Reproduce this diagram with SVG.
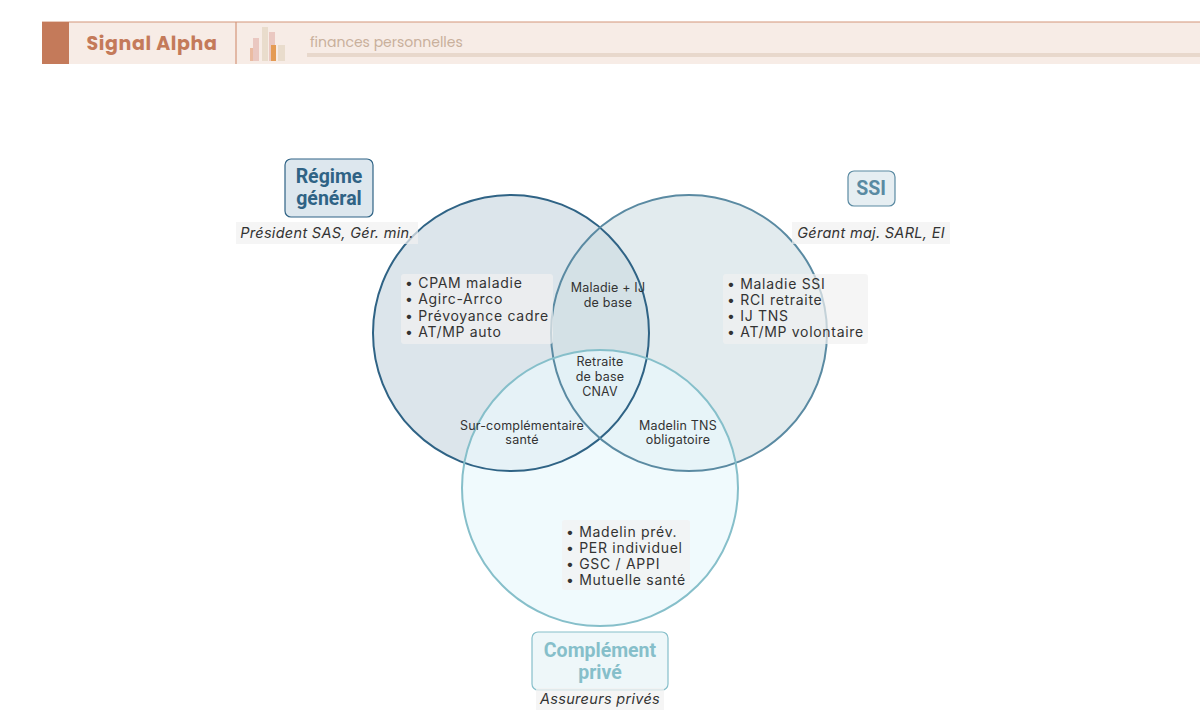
<svg xmlns="http://www.w3.org/2000/svg" width="1200" height="721" viewBox="0 0 1200 721">
<style>
.t{font-family:Inter,"Noto Sans",sans-serif;fill:#333}
.b{font-size:14px;letter-spacing:0.7px}
.s{font-size:12.5px;letter-spacing:0.2px}
.lb{fill:#f1f1f1;opacity:.7}
.it{font-family:Inter,sans-serif;font-style:italic;font-size:14.5px;fill:#333;letter-spacing:0.3px}
.tt{font-family:Roboto,sans-serif;font-weight:bold;font-size:19.5px}
</style>
<rect width="1200" height="721" fill="#fff"/>
<g id="header">
<rect x="42" y="22" width="1158" height="42" fill="#f7ece6"/>
<line x1="42" y1="22" x2="1200" y2="22" stroke="#d4967a" stroke-width="1.2"/>
<rect x="42" y="22" width="27" height="42" fill="#c47a5a"/>
<line x1="236" y1="22" x2="236" y2="64" stroke="#d4967a" stroke-width="1.2"/>
<text x="152" y="50" text-anchor="middle" font-family="Poppins,'Noto Sans',sans-serif" font-weight="bold" font-size="19" fill="#c47a5a" letter-spacing="0.6">Signal Alpha</text>
<g opacity="0.8">
<rect x="250" y="48" width="6" height="13" fill="#e8b090"/>
<rect x="253" y="38" width="6" height="23" fill="#e8c0b8"/>
<rect x="262" y="27" width="6" height="34" fill="#e6d9c6"/>
<rect x="269" y="32" width="6" height="29" fill="#e8c0b8"/>
<rect x="271" y="45" width="5" height="16" fill="#e08830"/>
<rect x="278" y="45" width="7" height="16" fill="#e6d9c6"/>
</g>
<text x="310" y="47" font-family="Poppins,'Noto Sans',sans-serif" font-size="14" fill="#c9b09c">finances personnelles</text>
<rect x="307" y="53" width="893" height="4" fill="#e8d8cc"/>
</g>
<g id="circles">
<circle cx="511" cy="333" r="138" fill="#c5d3de" fill-opacity="0.6"/>
<circle cx="689" cy="333" r="138" fill="#cfdde3" fill-opacity="0.6"/>
<circle cx="600" cy="488" r="138" fill="#eaf8fc" fill-opacity="0.7"/>
<circle id="c-rg" cx="511" cy="333" r="138" fill="none" stroke="#2f6385" stroke-width="2"/>
<circle id="c-ssi" cx="689" cy="333" r="138" fill="none" stroke="#5a8aa2" stroke-width="2"/>
<circle id="c-cp" cx="600" cy="488" r="138" fill="none" stroke="#86bfca" stroke-width="2"/>
</g>
<g id="title-rg">
<rect x="285" y="159" width="88" height="58" rx="6" fill="#dde7ee" stroke="#2f6385" stroke-width="1.2"/>
<text class="tt" x="329" y="183" text-anchor="middle" fill="#2f6385">Régime</text>
<text class="tt" x="329" y="205" text-anchor="middle" fill="#2f6385">général</text>
<rect x="236" y="222" width="182" height="22" class="lb"/>
<text class="it" x="327" y="238" text-anchor="middle">Président SAS, Gér. min.</text>
</g>
<g id="title-ssi">
<rect x="848" y="171" width="47" height="35" rx="6" fill="#e6eef2" stroke="#5a8aa2" stroke-width="1.2"/>
<text class="tt" x="871" y="195" text-anchor="middle" fill="#5a8aa2">SSI</text>
<rect x="792" y="222" width="158" height="22" class="lb"/>
<text class="it" x="871" y="238" text-anchor="middle">Gérant maj. SARL, EI</text>
</g>
<g id="title-cp">
<rect x="532" y="632" width="136" height="58" rx="6" fill="#eef7f9" stroke="#86bfca" stroke-width="1.2"/>
<text class="tt" x="600" y="657" text-anchor="middle" fill="#86bfca">Complément</text>
<text class="tt" x="600" y="679" text-anchor="middle" fill="#86bfca">privé</text>
<rect x="536" y="688" width="128" height="22" class="lb"/>
<text class="it" x="600" y="704" text-anchor="middle">Assureurs privés</text>
</g>
<g id="labels">
<rect x="401" y="274" width="152" height="70" rx="3" class="lb"/>
<text class="t b" x="405" y="288">• CPAM maladie</text>
<text class="t b" x="405" y="304">• Agirc-Arrco</text>
<text class="t b" x="405" y="321">• Prévoyance cadre</text>
<text class="t b" x="405" y="337">• AT/MP auto</text>
<rect x="723" y="274" width="145" height="70" rx="3" class="lb"/>
<text class="t b" x="727" y="289">• Maladie SSI</text>
<text class="t b" x="727" y="305">• RCI retraite</text>
<text class="t b" x="727" y="321">• IJ TNS</text>
<text class="t b" x="727" y="337">• AT/MP volontaire</text>
<rect x="562" y="520" width="128" height="70" rx="3" class="lb"/>
<text class="t b" x="566" y="537">• Madelin prév.</text>
<text class="t b" x="566" y="553">• PER individuel</text>
<text class="t b" x="566" y="569">• GSC / APPI</text>
<text class="t b" x="566" y="585">• Mutuelle santé</text>
<text class="t s" x="608" y="292" text-anchor="middle">Maladie + IJ</text>
<text class="t s" x="608" y="307" text-anchor="middle">de base</text>
<text class="t s" x="600" y="366" text-anchor="middle">Retraite</text>
<text class="t s" x="600" y="381" text-anchor="middle">de base</text>
<text class="t s" x="600" y="396" text-anchor="middle">CNAV</text>
<text class="t s" x="522" y="430" text-anchor="middle">Sur-complémentaire</text>
<text class="t s" x="522" y="444" text-anchor="middle">santé</text>
<text class="t s" x="678" y="430" text-anchor="middle">Madelin TNS</text>
<text class="t s" x="678" y="444" text-anchor="middle">obligatoire</text>
</g>
<g id="connectors"/>
</svg>
